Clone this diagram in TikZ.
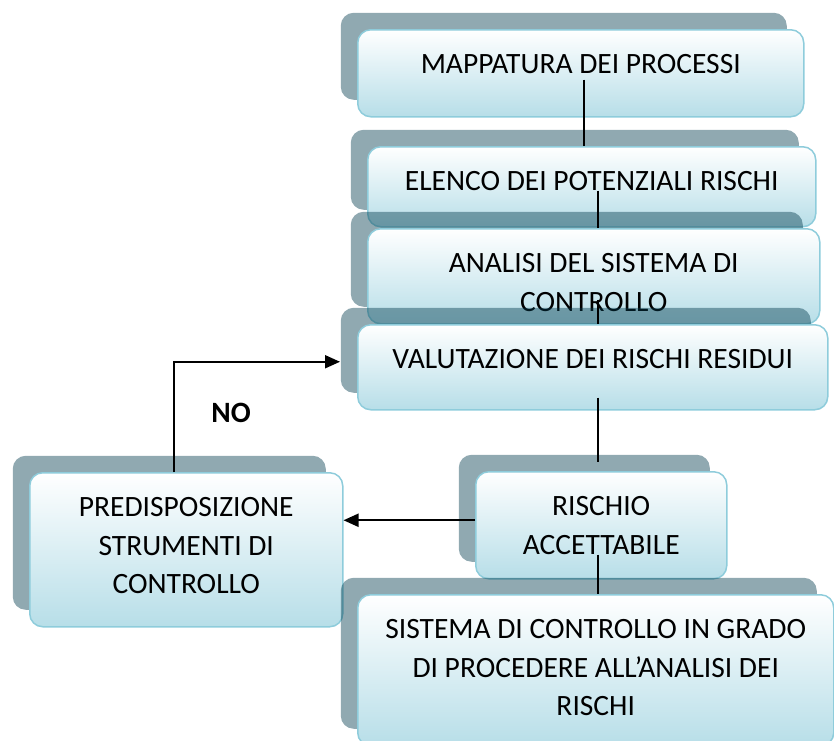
\documentclass[tikz,border=0pt]{standalone}
\usepackage{fontspec}
\setmainfont{Carlito}
\usepackage{tikz}
\usetikzlibrary{positioning,
                calc,
                shadows,
                arrows.meta}
\definecolor{boxline}{RGB}{142,204,219}
\definecolor{boxfill}{RGB}{183,222,232}
\definecolor{shadowcol}{RGB}{3,59,77}
\tikzset{stepnode/.style = {rectangle,
                     draw=boxline,
                     line width=1.5pt,
                     rounded corners=13pt,
                     top color=white,
                     bottom color=boxfill,
                     anchor=north west,
                     inner xsep=0pt,
                     inner ysep=0pt,
                     text height=44pt,
                     align=center,
                     font=\fontsize{29.5pt}{38.5pt}\selectfont,
                     general shadow={fill=shadowcol,
                                     fill opacity=0.44,
                                     shadow xshift=-17pt,
                                     shadow yshift=17pt}
                    },
         connline/.style = {draw, line width=2pt},
         arrowline/.style = {draw, line width=2pt,
                     -{Triangle[length=15pt,width=13pt]}}
        }

\begin{document}
\begin{tikzpicture}[x=1pt,y=-1pt]
        \useasboundingbox (0,0) rectangle (834,740);
        \clip (0,0) rectangle (834,740);

        \node[stepnode,minimum width=446pt,text depth=43pt] (mappatura) at (357,29) {MAPPATURA DEI PROCESSI};
        \node[stepnode,minimum width=448pt,text depth=36pt] (elenco) at (367,146) {ELENCO DEI POTENZIALI RISCHI};
        \node[stepnode,minimum width=452pt,text height=82.5pt,text depth=12.5pt] (analisi) at (367,228) {ANALISI DEL SISTEMA DI\\CONTROLLO};
        \node[stepnode,minimum width=470pt,text depth=41pt] (valutazione) at (357,324) {VALUTAZIONE DEI RISCHI RESIDUI};
        \node[stepnode,minimum width=313pt,text height=121pt,text depth=33pt] (predisposizione) at (29,472) {PREDISPOSIZIONE\\STRUMENTI DI\\CONTROLLO};
        \node[stepnode,minimum width=251pt,text height=82.5pt,text depth=24.5pt] (rischio) at (475,471) {RISCHIO\\ACCETTABILE};
        \node[stepnode,minimum width=476pt,text height=121pt,text depth=30pt] (sistema) at (357,594) {SISTEMA DI CONTROLLO IN GRADO\\DI PROCEDERE ALL’ANALISI DEI\\RISCHI};

        \node[font=\fontsize{29.5pt}{33pt}\selectfont\bfseries] (no) at (231,413) {NO};

        \path[connline] ([xshift=3pt,yshift=38pt]mappatura.south) coordinate (c1) -- (c1 |- elenco.north);
        \path[connline] ([xshift=6pt,yshift=37pt]elenco.south) coordinate (c2) -- (c2 |- analisi.north);
        \path[connline] ([xshift=4pt,yshift=25pt]analisi.south) coordinate (c3) -- (c3 |- valutazione.north);
        \path[connline] ([xshift=5pt,yshift=13pt]valutazione.south) coordinate (c4) -- ([yshift=9pt]c4 |- rischio.north);
        \path[connline] ([xshift=-3.5pt,yshift=25pt]rischio.south) coordinate (c5) -- (c5 |- sistema.north);

        \path[arrowline] ([yshift=5pt]rischio.west) -- ([yshift=5pt]rischio.west -| predisposizione.east);
        \path[arrowline] ([xshift=-12.5pt]predisposizione.north) |- ([xshift=-17pt,yshift=5.5pt]valutazione.west);
    \end{tikzpicture}
\end{document}
